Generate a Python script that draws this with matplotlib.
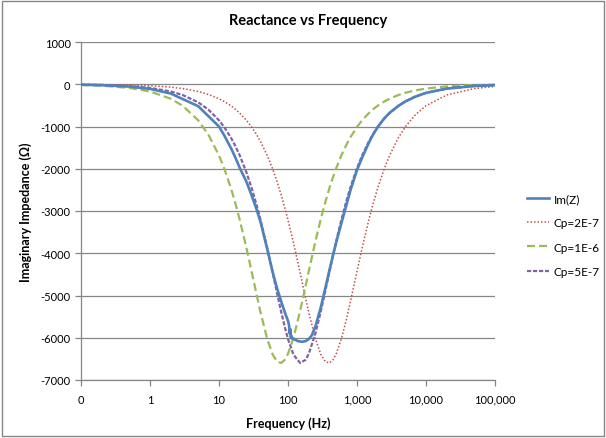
import matplotlib.pyplot as plt
from matplotlib.patches import Rectangle
from matplotlib.ticker import FixedLocator, FixedFormatter, NullLocator

plt.rcParams['font.family'] = ['Lato', 'DejaVu Sans']

# frequency grid (Hz) shared by the three Cp curves
freq = [0.1, 0.2, 0.5, 1, 2, 3, 5, 7, 10, 12, 15, 17, 20, 25, 30, 35, 40,
        50, 60, 70, 80, 90, 100, 120, 150, 180, 200, 250, 300, 350, 400, 450,
        500, 600, 700, 800, 1000, 1200, 1500, 1700, 2000, 2500, 3000, 4000,
        5000, 7000, 10000, 20000, 50000, 100000]

cp_2e7 = [-3, -7, -17, -34, -69, -103, -171, -240, -343, -411, -513, -582,
          -684, -854, -1022, -1190, -1357, -1686, -2008, -2323, -2629, -2926,
          -3212, -3750, -4465, -5064, -5400, -6029, -6400, -6570, -6595, -6521,
          -6381, -6000, -5574, -5158, -4426, -3840, -3179, -2844, -2450, -1986,
          -1667, -1259, -1010, -724, -507, -254, -102, -51]

cp_1e6 = [-17, -34, -86, -171, -343, -513, -854, -1190, -1686, -2008, -2477,
          -2779, -3212, -3877, -4465, -4973, -5400, -6029, -6400, -6570, -6595,
          -6521, -6381, -6000, -5363, -4773, -4426, -3713, -3179, -2770, -2450,
          -2194, -1986, -1667, -1435, -1259, -1010, -844, -676, -597, -507,
          -406, -339, -254, -203, -145, -102, -51, -20, -10]

cp_5e7 = [-9, -17, -43, -86, -171, -257, -428, -599, -854, -1022, -1274,
          -1440, -1686, -2088, -2477, -2853, -3212, -3877, -4465, -4973, -5400,
          -5750, -6029, -6400, -6598, -6521, -6381, -5894, -5363, -4866, -4426,
          -4044, -3713, -3179, -2770, -2450, -1986, -1667, -1341, -1186, -1010,
          -810, -676, -507, -406, -290, -203, -102, -41, -20]

# measured Im(Z), with the little jitter near 100 Hz
imz_freq = [0.1, 0.2, 0.5, 1, 2, 5, 10, 12, 15, 17, 20, 25, 30, 35, 40, 50,
            60, 70, 80, 90, 100, 104, 106, 108, 110, 112, 115, 120, 140, 160,
            180, 200, 220, 250, 300, 350, 400, 450, 500, 600, 700, 800, 1000,
            1200, 1500, 1700, 2000, 2500, 3000, 4000, 5000, 7000, 10000, 20000,
            50000, 100000]
imz = [-11, -22, -55, -110, -220, -520, -1000, -1220, -1520, -1710, -1980,
       -2310, -2650, -2960, -3260, -3900, -4450, -4850, -5150, -5400, -5600,
       -5720, -5900, -5800, -6000, -5950, -6020, -6030, -6080, -6095, -6080,
       -6030, -5950, -5730, -5270, -4800, -4390, -4040, -3740, -3260, -2870,
       -2520, -2030, -1720, -1370, -1200, -1010, -800, -670, -510, -410, -295,
       -205, -103, -42, -21]

xticks = [0.1, 1, 10, 100, 1000, 10000, 100000]
xlabels = ["0", "1", "10", "100", "1,000", "10,000", "100,000"]
yticks = list(range(-7000, 1001, 1000))

grey = "#868686"

fig = plt.figure(figsize=(6.06, 4.39), dpi=100)
ax = fig.add_axes([81 / 606, 1 - 381 / 439, 414 / 606, 338 / 439])

ax.plot(imz_freq, imz, color="#4F81BD", lw=1.9, label="Im(Z)", zorder=5)
ax.plot(freq, cp_2e7, color="#C0504D", lw=1.1, linestyle=(0, (1, 1.3)),
        label="Cp=2E-7", zorder=3)
ax.plot(freq, cp_1e6, color="#9BBB59", lw=1.6, linestyle=(0, (3.6, 1.8)),
        label="Cp=1E-6", zorder=3)
ax.plot(freq, cp_5e7, color="#8064A2", lw=1.6, linestyle=(0, (1.9, 0.8)),
        label="Cp=5E-7", zorder=4)

ax.set_xscale("log")
ax.set_xlim(0.1, 100000)
ax.set_ylim(-7000, 1000)
ax.xaxis.set_major_locator(FixedLocator(xticks))
ax.xaxis.set_major_formatter(FixedFormatter(xlabels))
ax.xaxis.set_minor_locator(NullLocator())
ax.set_yticks(yticks)
ax.set_yticklabels([str(v) for v in yticks])

ax.grid(axis="y", color=grey, lw=0.9)
ax.set_axisbelow(True)
for s in ["top", "right"]:
    ax.spines[s].set_visible(False)
for s in ["left", "bottom"]:
    ax.spines[s].set_color(grey)
    ax.spines[s].set_linewidth(0.9)
ax.tick_params(axis="both", colors=grey, labelcolor="black", labelsize=8,
               length=4, width=0.9, direction="out")
ax.tick_params(axis="x", pad=6)

ax.set_xlabel("Frequency (Hz)", fontsize=9, fontweight="bold", labelpad=8)
ax.set_ylabel("Imaginary Impedance (\u03a9)", fontsize=9, fontweight="bold",
              labelpad=6)
fig.text(0.508, 0.953, "Reactance vs Frequency", ha="center", va="center",
         fontsize=10.5, fontweight="bold")

ax.legend(loc="center left", bbox_to_anchor=(527 / 606, 1 - 236 / 439),
          bbox_transform=fig.transFigure, frameon=False, fontsize=8.5,
          handlelength=1.9, handletextpad=0.35, labelspacing=1.12,
          borderaxespad=0, borderpad=0)

fig.patches.append(Rectangle((0.003, 0.004), 0.994, 0.992, transform=fig.transFigure,
                             fill=False, edgecolor=grey, lw=1.0))

fig.savefig("out.png", dpi=100)
